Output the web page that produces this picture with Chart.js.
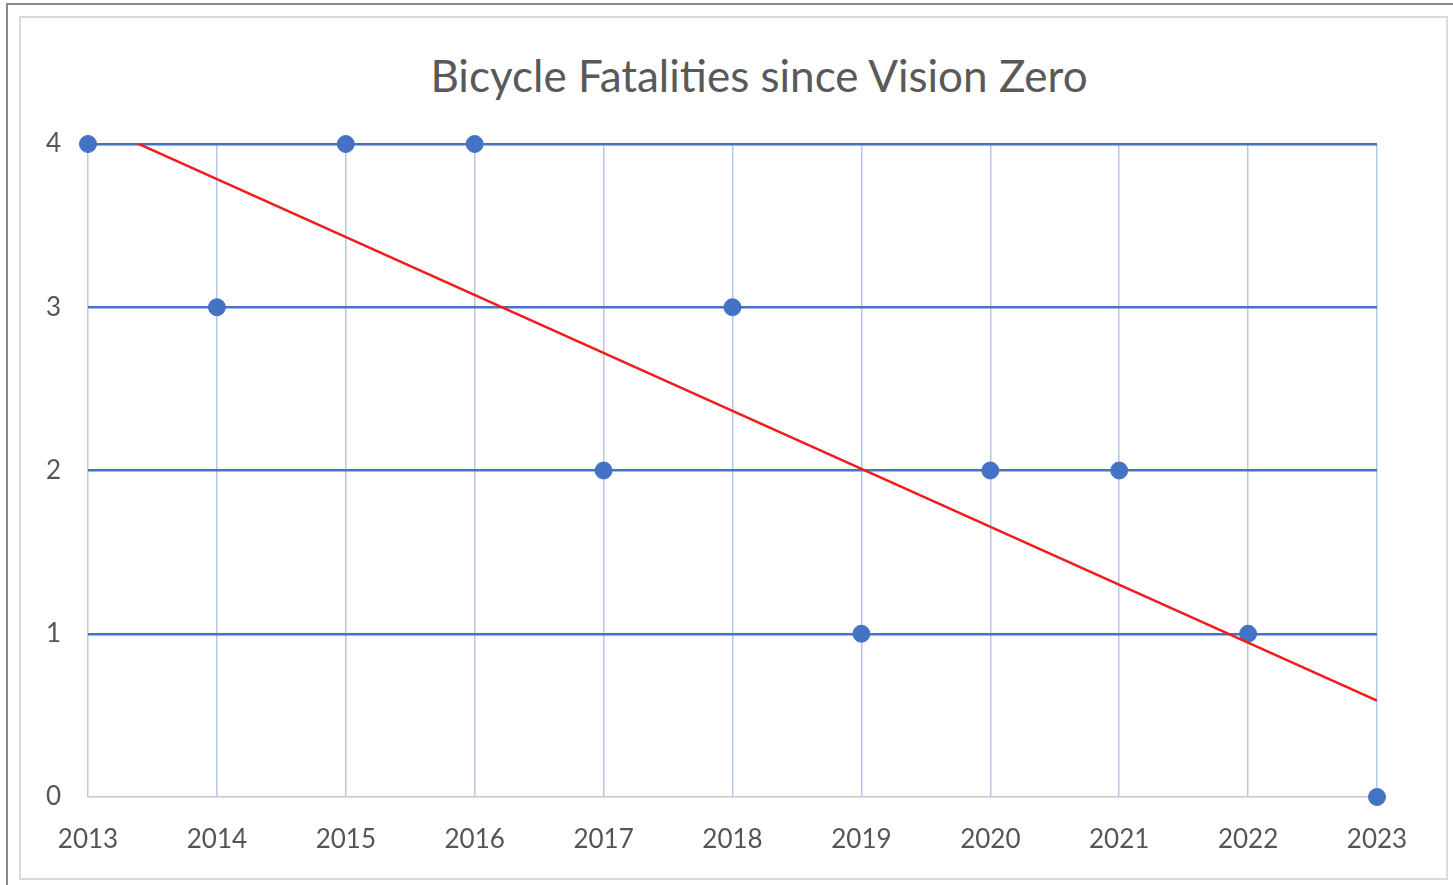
<!DOCTYPE html>
<html>
<head>
  <title>Bicycle Fatalities since Vision Zero</title>
  <script src="https://cdn.jsdelivr.net/npm/chart.js"></script>
  <style>
    body { margin: 0; background: #fff; }
    #wrap { position: relative; width: 1453px; height: 885px; overflow: hidden; }
    #outer { position: absolute; left: 6px; top: 3px; width: 1500px; height: 1000px;
             border-top: 2px solid #8a8a8a; border-left: 2px solid #8a8a8a; }
    #inner { position: absolute; left: 19px; top: 16px; width: 1425px; height: 860px;
             border: 2px solid #dadada; }
    #title { position: absolute; left: 259px; top: 49px; width: 1000px; text-align: center;
             font-family: Lato, sans-serif; font-size: 44px; line-height: 52px; color: #595959; }
    canvas { position: absolute; left: 0; top: 0; }
  </style>
</head>
<body>
  <div id="wrap">
    <div id="outer"></div>
    <div id="inner"></div>
    <div id="title">Bicycle Fatalities since Vision Zero</div>
    <canvas id="fatalChart" width="1453" height="885"></canvas>
  </div>

  <script>
    // data
    const years = [2013, 2014, 2015, 2016, 2017, 2018, 2019, 2020, 2021, 2022, 2023];
    const fatalities = [4, 3, 4, 4, 2, 3, 1, 2, 2, 1, 0];
    const yTicks = [0, 1, 2, 3, 4];
    // linear trendline, value at first and last year
    const trendYears = [2013, 2023];
    const trendValues = [4.14, 0.59];

    const blue = '#4472c4';

    const ctx = document.getElementById('fatalChart').getContext('2d');
    new Chart(ctx, {
      type: 'scatter',
      data: {
        datasets: [
          {
            label: 'Trend',
            type: 'line',
            data: trendYears.map((y, i) => ({ x: y, y: trendValues[i] })),
            borderColor: '#f21c1c',
            borderWidth: 2.5,
            pointRadius: 0,
            fill: false
          },
          {
            label: 'Fatalities',
            data: years.map((y, i) => ({ x: y, y: fatalities[i] })),
            backgroundColor: blue,
            borderColor: blue,
            pointRadius: 8.5,
            clip: false
          }
        ]
      },
      options: {
        responsive: false,
        animation: false,
        layout: { padding: { left: 0, right: 76, top: 144, bottom: 28 } },
        plugins: {
          legend: { display: false },
          tooltip: { enabled: false }
        },
        scales: {
          x: {
            type: 'linear',
            min: years[0],
            max: years[years.length - 1],
            afterFit: s => { s.height = 60; },
            afterBuildTicks: s => { s.ticks = years.map(v => ({ value: v })); },
            border: { display: false },
            grid: {
              drawTicks: false,
              lineWidth: 1.5,
              color: c => c.tick && c.tick.value === years[0] ? '#c8c8c8' : '#b4c7e7'
            },
            ticks: {
              padding: 27,
              color: '#555555',
              font: { family: 'Lato', size: 26 },
              callback: v => String(v)
            }
          },
          y: {
            min: 0,
            max: 4,
            afterFit: s => { s.width = 88; },
            afterBuildTicks: s => { s.ticks = yTicks.map(v => ({ value: v })); },
            border: { display: false },
            grid: {
              drawTicks: false,
              lineWidth: c => c.tick && c.tick.value === 0 ? 1.5 : 2.5,
              color: c => c.tick && c.tick.value === 0 ? '#c8c8c8' : blue
            },
            ticks: {
              padding: 27,
              color: '#555555',
              font: { family: 'Lato', size: 26 }
            }
          }
        }
      }
    });
  </script>
</body>
</html>
